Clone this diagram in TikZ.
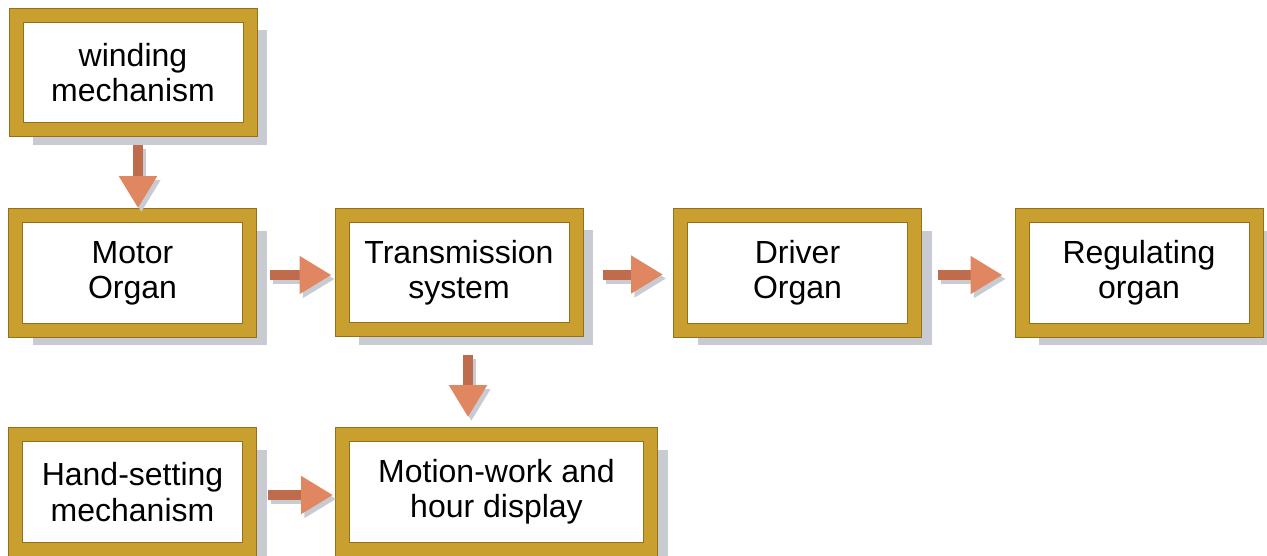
\documentclass[tikz,border=0pt]{standalone}
\usepackage{fontspec}
\setmainfont{Liberation Sans}
\usepackage{tikz}
\usetikzlibrary{arrows.meta, shadows}
\definecolor{gold}{RGB}{201,160,48}
\definecolor{golddark}{RGB}{150,112,24}
\definecolor{shadowgrey}{RGB}{200,204,210}
\definecolor{shaftcol}{RGB}{190,108,76}
\definecolor{headcol}{RGB}{224,134,96}

\begin{document}
\begin{tikzpicture}[x=0.75pt, y=-0.75pt,
            organ/.style={draw=golddark, double=gold, line width=0.75pt, double distance=9.75pt,
                fill=white, outer sep=5.625pt, align=center, inner sep=0pt,
                minimum width=175.5pt, minimum height=86pt,
                font=\fontsize{24}{26.5}\selectfont,
                drop shadow={shadow xshift=12.75pt, shadow yshift=-11.25pt, fill=shadowgrey, opacity=1}},
            flow/.style={draw=shaftcol, line width=7.5pt,
                -{Triangle[length=24pt, width=27pt, color=headcol]}},
            flowshadow/.style={draw=shadowgrey, line width=7.5pt,
                -{Triangle[length=24pt, width=27pt, color=shadowgrey]},
                transform canvas={shift={(2.5pt,-3pt)}}}]
            \useasboundingbox (0,0) rectangle (1267,556);
            \node[organ] (wind) at (133,72.5) {winding\\mechanism};
            \node[organ] (motor) at (132.5,273) {Motor\\Organ};
            \node[organ] (trans) at (459,272.5) {Transmission\\system};
            \node[organ] (driver) at (797.5,273) {Driver\\Organ};
            \node[organ] (reg) at (1139,273) {Regulating\\organ};
            \node[organ] (hand) at (132.5,492) {Hand-setting\\mechanism};
            \node[organ, minimum width=231pt] (motion) at (496.5,492) {Motion-work and\\hour display};
            \foreach \s in {flowshadow, flow} {
                \draw[\s, shorten <=6pt, shorten >=0pt]
                    ([xshift=3.75pt]wind.south) -- ([xshift=3.75pt]wind.south |- motor.north);
                \draw[\s, shorten <=9.75pt, shorten >=2.25pt]
                    ([yshift=-1.5pt]motor.east) -- ([yshift=-1.5pt]motor.east -| trans.west);
                \draw[\s, shorten <=14.25pt, shorten >=7.5pt]
                    ([yshift=-1.5pt]trans.east) -- ([yshift=-1.5pt]trans.east -| driver.west);
                \draw[\s, shorten <=12pt, shorten >=9pt]
                    ([yshift=-1.5pt]driver.east) -- ([yshift=-1.5pt]driver.east -| reg.west);
                \draw[\s, shorten <=13.5pt, shorten >=7.5pt]
                    ([xshift=6.75pt]trans.south) -- ([xshift=6.75pt]trans.south |- motion.north);
                \draw[\s, shorten <=8.25pt, shorten >=1.5pt]
                    ([yshift=-2.25pt]hand.east) -- ([yshift=-2.25pt]hand.east -| motion.west);
            }
        \end{tikzpicture}
\end{document}
